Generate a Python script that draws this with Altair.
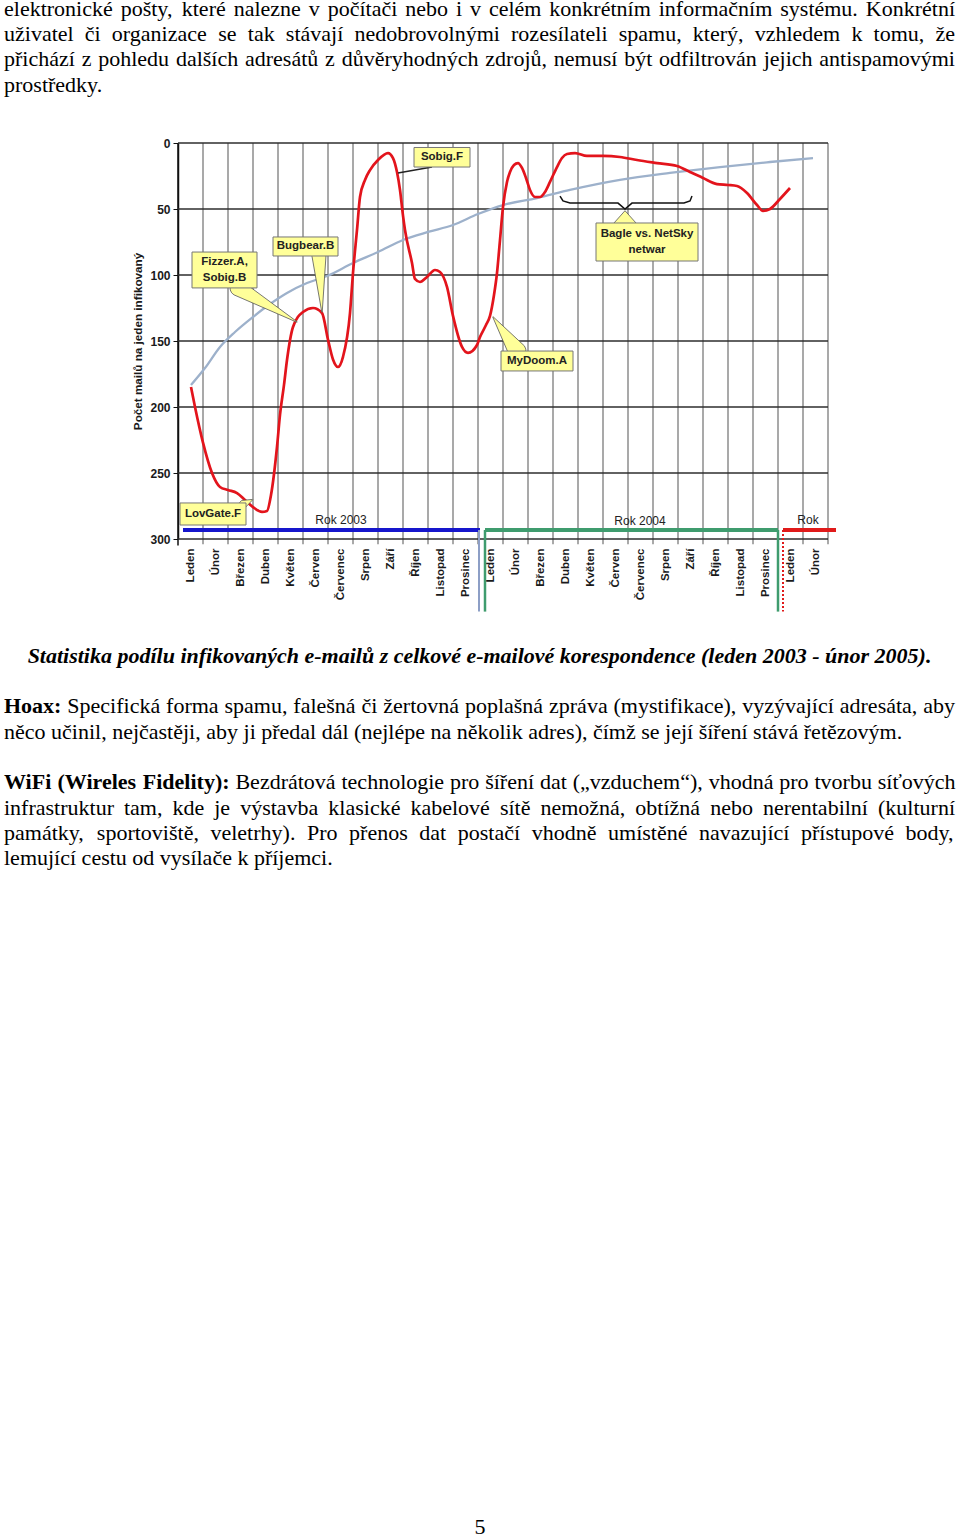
import json
import unicodedata
import altair as alt
import pandas as pd

# ---------------- page / plot geometry ----------------
X0, Y0, PW, PH = 178, 143, 650, 396          # plot area on the page (px)
NM = 26                                       # months Jan 2003 .. Feb 2005
MPX = PW / NM
VPX = PH / 300.0


def mx(px):
    return (px - X0) / MPX


def vy(py):
    return (py - Y0) / VPX


# ---------------- chart data ----------------
months = ["Leden", "Únor", "Březen", "Duben", "Květen", "Červen", "Červenec",
          "Srpen", "Září", "Říjen", "Listopad", "Prosinec"] * 2 + ["Leden", "Únor"]

y_ticks = [0, 50, 100, 150, 200, 250, 300]

# mails per one infected mail (red curve), x in months from Jan 2003
red_m = [0.52, 0.68, 1.0, 1.36, 1.68, 2.0, 2.36, 2.68, 3.0, 3.36, 3.56, 3.72, 3.96, 4.08,
         4.24, 4.36, 4.6, 5.0, 5.4, 5.76, 6.0, 6.2, 6.4, 6.6, 6.88, 7.0, 7.16, 7.28, 7.48,
         7.68, 8.0, 8.4, 8.6, 8.76, 8.88, 9.0, 9.08, 9.36, 9.48, 9.68, 9.96, 10.28, 10.48,
         10.76, 11.0, 11.36, 11.6, 11.96, 12.08, 12.32,
         12.48, 12.64, 12.76, 12.88, 13.0, 13.16, 13.28, 13.44, 13.6, 13.76, 13.92, 14.08,
         14.28, 14.48, 14.68, 14.88, 15.16, 15.36, 15.56, 15.88, 16.36, 17.0, 17.68, 18.36,
         19.16, 19.96, 20.48, 21.0, 21.56, 22.0, 22.36, 22.76, 23.16, 23.4, 23.68, 24.08, 24.48]
red_v = [184.8, 200, 227, 250, 260.6, 262.9, 265.2, 270.5, 275.8, 279.5, 278.8, 266.7, 230.3, 206,
         183.3, 164.4, 139.4, 128, 125, 128.8, 149, 164, 169.7, 162, 128.8, 98.5, 65.9, 40.9, 28,
         20.5, 12.9, 7.6, 11.4, 22, 35.6, 55, 65.9, 90.9, 103, 105.3, 101.5, 96.2, 97.7,
         109, 131, 154.5, 159, 153, 147, 137.9,
         131, 115.2, 98.5, 73.5, 48.5, 29.5, 22, 16.7, 15.2, 18.9, 26.5, 35.6,
         40.9, 40.9, 37.1, 29.5, 18.2, 11.4, 8.3, 7.6, 9.8, 9.8, 10.6, 12.9,
         15.2, 17.4, 22, 26.5, 31.1, 31.8, 32.6, 37.9, 47, 51.5, 50, 42.4, 34.1]
assert len(red_m) == len(red_v)

# grey-blue trend curve
trend_m = [0.52, 1.08, 1.68, 2.28, 3.0, 3.68, 4.36, 5.16, 5.96, 7.0, 8.0, 9.0, 10.0, 11.0,
           12.0, 13.0, 14.36, 15.68, 17.68, 19.68, 21.68, 23.68, 25.4]
trend_v = [183.3, 170.5, 154.5, 143.2, 131.8, 122, 113.6, 106.1, 100.8, 90.9, 82.6, 73.5, 67.4, 62.1,
           53.8, 47, 41.7, 35.6, 28, 22.7, 18.2, 14.4, 11.4]

# callout boxes
box_text = [["Sobig.F"], ["Bugbear.B"], ["Fizzer.A,", "Sobig.B"], ["Bagle vs. NetSky", "netwar"],
            ["MyDoom.A"], ["LovGate.F"]]
box_m1 = [9.44, 3.8, 0.56, 16.72, 12.92, 0.08]
box_m2 = [11.68, 6.4, 3.16, 20.8, 15.8, 2.72]
box_v1 = [3.4, 71.2, 82.6, 60.6, 157.6, 272.7]
box_v2 = [18.2, 85.6, 109.8, 89.4, 172.7, 289.4]
BOX_LINE_PX = 16

# callout wedges: base point, base width (px), tip point
wedge_base_m = [5.64, 2.4, 17.88, 13.56, 2.62]
wedge_base_v = [85.6, 109.8, 60.6, 157.6, 273.5]
wedge_base_w = [14, 16, 22, 18, 8]
wedge_tip_m = [5.76, 4.76, 17.88, 12.6, 2.98]
wedge_tip_v = [128, 135.6, 51.5, 131.8, 270.2]

# Sobig.F pointer line
sobig_m = [10.16, 8.8]
sobig_v = [18.2, 22.7]

# curly brace over the Bagle/NetSky period
brace_m = [15.28, 15.4, 15.68, 17.6, 17.88, 18.16, 20.24, 20.48, 20.56]
brace_v = [40.2, 43.9, 45.5, 45.5, 50.0, 45.5, 45.5, 43.9, 40.2]

# year brackets
year_text = ["Rok 2003", "Rok 2004", "Rok"]
year_m = [6.52, 18.48, 25.2]
year_v = [285.5, 286.5, 285.5]
bracket_v = 293.2
bracket_drop = 355
blue_m = [0.2, 12.08]
green_m = [12.28, 24.0]
red_br_m = [24.2, 26.32]
bluegrey_drop_m = 12.04

# ---------------- page text ----------------
top_lines = [
    "elektronické pošty, které nalezne v počítači nebo i v celém konkrétním informačním systému. Konkrétní",
    "uživatel či organizace se tak stávají nedobrovolnými rozesílateli spamu, který, vzhledem k tomu, že",
    "přichází z pohledu dalších adresátů z důvěryhodných zdrojů, nemusí být odfiltrován jejich antispamovými",
    "prostředky.",
]
caption = "Statistika podílu infikovaných e-mailů z celkové e-mailové korespondence (leden 2003 - únor 2005)."
hoax_lines = [
    "Hoax: Specifická forma spamu, falešná či žertovná poplašná zpráva (mystifikace), vyzývající adresáta, aby",
    "něco učinil, nejčastěji, aby ji předal dál (nejlépe na několik adres), čímž se její šíření stává řetězovým.",
]
wifi_lines = [
    "WiFi (Wireles Fidelity): Bezdrátová technologie pro šíření dat („vzduchem“), vhodná pro tvorbu síťových",
    "infrastruktur tam, kde je výstavba klasické kabelové sítě nemožná, obtížná nebo nerentabilní (kulturní",
    "památky, sportoviště, veletrhy). Pro přenos dat postačí vhodně umístěné navazující přístupové body,",
    "lemující cestu od vysílače k příjemci.",
]
page_number = "5"

top_base = [16, 41, 66, 92]
hoax_base = [713, 739]
wifi_base = [789, 815, 840, 865]
caption_base = 663
pagenum_base = 1534
FS = 22

# Times (Liberation Serif) advance widths, per 1000 em
TR = {' ': 250, '(': 333, ')': 333, ',': 250, '-': 333, '.': 250, ':': 278, '„': 444, '“': 444,
      'A': 722, 'B': 667, 'C': 667, 'D': 722, 'E': 611, 'F': 556, 'G': 722, 'H': 722, 'I': 333,
      'J': 389, 'K': 722, 'L': 611, 'M': 889, 'N': 722, 'O': 722, 'P': 556, 'Q': 722, 'R': 667,
      'S': 556, 'T': 611, 'U': 722, 'V': 722, 'W': 944, 'X': 722, 'Y': 722, 'Z': 611,
      'a': 444, 'b': 500, 'c': 444, 'd': 500, 'e': 444, 'f': 333, 'g': 500, 'h': 500, 'i': 278,
      'j': 278, 'k': 500, 'l': 278, 'm': 778, 'n': 500, 'o': 500, 'p': 500, 'q': 500, 'r': 333,
      's': 389, 't': 278, 'u': 500, 'v': 500, 'w': 722, 'x': 500, 'y': 500, 'z': 444, 'ť': 400}
TB = {' ': 250, '(': 333, ')': 333, ':': 333, 'F': 611, 'H': 778, 'W': 1000,
      'a': 500, 'd': 556, 'e': 444, 'i': 278, 'l': 278, 'o': 500, 'r': 444, 's': 389,
      't': 333, 'x': 500, 'y': 500}


def word_w(word, bold):
    tbl = TB if bold else TR
    s = 0
    for ch in word:
        if ch in tbl:
            s += tbl[ch]
            continue
        b = unicodedata.normalize("NFD", ch)[0]
        s += tbl.get(b, TR.get(b, 500))
    return s / 1000.0


def layout_para(lines, bold_count, baselines, left=4, right=955):
    rows = []
    for li, (line, base) in enumerate(zip(lines, baselines)):
        words = line.split(" ")
        justify = li < len(lines) - 1
        bc = bold_count if li == 0 else 0
        ws = [word_w(w, i < bc) * FS for i, w in enumerate(words)]
        if justify and len(words) > 1:
            gap = (right - left - sum(ws)) / (len(words) - 1)
        else:
            gap = 0.25 * FS
        x = left
        for i, w in enumerate(words):
            rows.append({"m": mx(x), "v": vy(base), "word": w, "bold": i < bc})
            x += ws[i] + gap
    return rows


words = (layout_para(top_lines, 0, top_base)
         + layout_para(hoax_lines, 1, hoax_base)
         + layout_para(wifi_lines, 3, wifi_base))
words_df = pd.DataFrame(words)

# ---------------- chart ----------------
xs = alt.Scale(domain=[0, NM], nice=False, zero=False)
ys = alt.Scale(domain=[0, 300], reverse=True, nice=False, zero=False)
SANS = "Liberation Sans"
SERIF = "Liberation Serif"

xaxis = alt.Axis(values=[i + 0.5 for i in range(NM)],
                 labelExpr=json.dumps(months, ensure_ascii=False) + "[floor(datum.value)]",
                 labelAngle=270, labelFont=SANS, labelFontSize=11.5, labelFontWeight="bold",
                 labelColor="#1a1a1a", labelPadding=9, ticks=False, domain=False, grid=False,
                 title=None, labelOverlap=False, labelFlush=False, labelBound=False)
yaxis = alt.Axis(values=y_ticks, title="Počet mailů na jeden infikovaný",
                 titleFont=SANS, titleFontSize=11.7, titleFontWeight="bold", titleColor="#1a1a1a",
                 titlePadding=6, labelFont=SANS, labelFontSize=12, labelFontWeight="bold",
                 labelColor="#1a1a1a", labelPadding=3, tickSize=5, tickColor="#111",
                 domain=True, domainColor="#111", domainWidth=1.5, grid=False)


def X(f="m"):
    return alt.X(f"{f}:Q", scale=xs, axis=xaxis)


def Y(f="v"):
    return alt.Y(f"{f}:Q", scale=ys, axis=yaxis)


vgrid = alt.Chart(pd.DataFrame({"m": list(range(1, NM + 1)), "v": 0, "v2": 304})).mark_rule(
    color="#8c8c8c", strokeWidth=1.5).encode(x=X(), y=Y(), y2="v2:Q")
leftline = alt.Chart(pd.DataFrame({"m": [0], "v": [0], "v2": [305]})).mark_rule(
    color="#111", strokeWidth=1.5).encode(x=X(), y=Y(), y2="v2:Q")
hgrid = alt.Chart(pd.DataFrame({"v": y_ticks, "m": 0, "m2": NM})).mark_rule(
    color="#2e2e2e", strokeWidth=1.3).encode(x=X(), x2="m2:Q", y=Y())


def hbar(ms, color, w):
    return alt.Chart(pd.DataFrame({"m": [ms[0]], "m2": [ms[1]], "v": [bracket_v]})).mark_rule(
        color=color, strokeWidth=w).encode(x=X(), x2="m2:Q", y=Y())


def vbar(ms, color, w, dash=None):
    kw = dict(color=color, strokeWidth=w)
    if dash:
        kw["strokeDash"] = dash
    return alt.Chart(pd.DataFrame({"m": ms, "v": bracket_v, "v2": bracket_drop})).mark_rule(
        **kw).encode(x=X(), y=Y(), y2="v2:Q")


brackets = [
    hbar(blue_m, "#1616cc", 4),
    vbar([bluegrey_drop_m], "#8d9fc6", 2),
    hbar(green_m, "#3f9c6e", 4),
    vbar(green_m, "#3f9c6e", 2.5),
    hbar(red_br_m, "#e01a1a", 4),
    vbar([red_br_m[0]], "#e01a1a", 2, [2, 2]),
]

year_lbl = alt.Chart(pd.DataFrame({"m": year_m, "v": year_v, "t": year_text})).mark_text(
    font=SANS, fontSize=12, color="#222", baseline="middle", align="center").encode(
    x=X(), y=Y(), text="t:N")

trend = alt.Chart(pd.DataFrame({"m": trend_m, "v": trend_v})).mark_line(
    color="#9db1cb", strokeWidth=2.3, interpolate="monotone").encode(x=X(), y=Y())
red = alt.Chart(pd.DataFrame({"m": red_m, "v": red_v})).mark_line(
    color="#e3141c", strokeWidth=2.7, interpolate="monotone").encode(x=X(), y=Y())

sobig_ptr = alt.Chart(pd.DataFrame({"m": [sobig_m[0]], "m2": [sobig_m[1]],
                                    "v": [sobig_v[0]], "v2": [sobig_v[1]]})).mark_rule(
    color="#222", strokeWidth=1.5).encode(x=X(), x2="m2:Q", y=Y(), y2="v2:Q")
brace = alt.Chart(pd.DataFrame({"m": brace_m, "v": brace_v, "o": list(range(len(brace_m)))})).mark_line(
    color="#111", strokeWidth=1.5).encode(x=X(), y=Y(), order="o:Q")

wrows = []
for i in range(len(wedge_base_m)):
    wrows.append({"id": i, "o": 0, "m": wedge_base_m[i], "v": wedge_base_v[i], "w": wedge_base_w[i]})
    wrows.append({"id": i, "o": 1, "m": wedge_tip_m[i], "v": wedge_tip_v[i], "w": 0.5})
wedges = alt.Chart(pd.DataFrame(wrows)).mark_trail(color="#ffff99", stroke="#555", strokeWidth=0.8).encode(
    x=X(), y=Y(), size=alt.Size("w:Q", scale=None, legend=None),
    detail="id:N", order="o:Q")

boxes_df = pd.DataFrame({"m": box_m1, "m2": box_m2, "v": box_v1, "v2": box_v2})
boxes = alt.Chart(boxes_df).mark_rect(fill="#ffff99", stroke="#777", strokeWidth=1).encode(
    x=X(), x2="m2:Q", y=Y(), y2="v2:Q")

lbl_rows = []
for lines, a1, a2, b1, b2 in zip(box_text, box_m1, box_m2, box_v1, box_v2):
    cm, cv = (a1 + a2) / 2, (b1 + b2) / 2
    n = len(lines)
    for k, t in enumerate(lines):
        lbl_rows.append({"m": cm, "v": cv + (k - (n - 1) / 2) * BOX_LINE_PX / VPX, "t": t})
box_lbl = alt.Chart(pd.DataFrame(lbl_rows)).mark_text(
    font=SANS, fontSize=11.5, fontWeight="bold", color="#222", baseline="middle", align="center").encode(
    x=X(), y=Y(), text="t:N")

reg_words = alt.Chart(words_df[~words_df["bold"]]).mark_text(
    font=SERIF, fontSize=FS, align="left", baseline="alphabetic", color="#000").encode(
    x=X(), y=Y(), text="word:N")
bold_words = alt.Chart(words_df[words_df["bold"]]).mark_text(
    font=SERIF, fontSize=FS, fontWeight="bold", align="left", baseline="alphabetic", color="#000").encode(
    x=X(), y=Y(), text="word:N")
cap = alt.Chart(pd.DataFrame({"m": [mx(479.5)], "v": [vy(caption_base)], "t": [caption]})).mark_text(
    font=SERIF, fontSize=FS, fontWeight="bold", fontStyle="italic", align="center",
    baseline="alphabetic", color="#000").encode(x=X(), y=Y(), text="t:N")
pnum = alt.Chart(pd.DataFrame({"m": [mx(480)], "v": [vy(pagenum_base)], "t": [page_number]})).mark_text(
    font=SERIF, fontSize=FS, align="center", baseline="alphabetic", color="#000").encode(
    x=X(), y=Y(), text="t:N")

chart = alt.layer(
    vgrid, leftline, hgrid, *brackets, year_lbl, trend, red, sobig_ptr, brace, wedges,
    boxes, box_lbl, reg_words, bold_words, cap, pnum
).properties(
    width=PW, height=PH,
    autosize=alt.AutoSizeParams(type="none"),
    padding={"left": X0, "top": Y0, "right": 960 - X0 - PW, "bottom": 1537 - Y0 - PH},
    background="white",
).configure_view(stroke=None)

chart.save("out.html", embed_options={"renderer": "svg", "actions": False})
